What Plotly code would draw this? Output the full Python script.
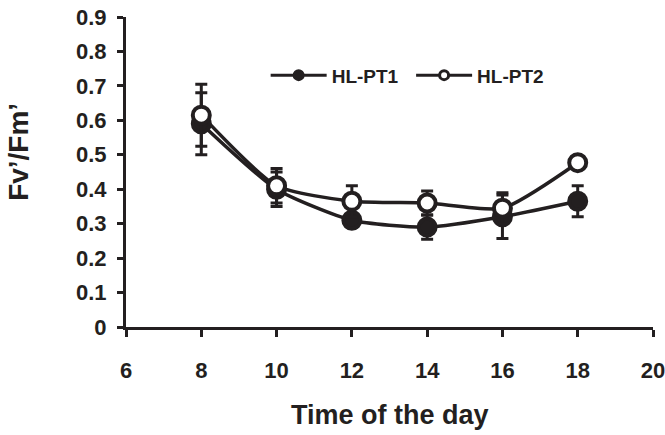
import plotly.graph_objects as go

# Sampling times (hour of the day)
time_of_day = [8, 10, 12, 14, 16, 18]

# Fv'/Fm' means and error for each treatment
hl_pt1 = [0.59, 0.40, 0.31, 0.29, 0.32, 0.365]
hl_pt1_err = [0.09, 0.05, 0.02, 0.035, 0.063, 0.045]
hl_pt2 = [0.615, 0.41, 0.365, 0.36, 0.345, 0.477]
hl_pt2_err = [0.09, 0.05, 0.045, 0.035, 0.045, 0.015]

INK = "#231f20"
FONT = "Liberation Sans, Arial, sans-serif"

fig = go.Figure()

series = [
    ("HL-PT1", hl_pt1, hl_pt1_err, INK, "legend", 0.265),
    ("HL-PT2", hl_pt2, hl_pt2_err, "white", "legend2", 0.541),
]

for name, vals, errs, fill, _, _ in series:
    fig.add_trace(go.Scatter(
        x=time_of_day, y=vals, mode="lines+markers", name=name,
        showlegend=False,
        line=dict(color=INK, width=3.5, shape="spline", smoothing=0.6),
        marker=dict(size=17, color=fill, line=dict(color=INK, width=4)),
        error_y=dict(type="data", array=errs, visible=True,
                     color=INK, thickness=3, width=6),
    ))

# legend entries with smaller symbols, one legend box per series
legend_boxes = {}
for name, _, _, fill, legend_id, lx in series:
    fig.add_trace(go.Scatter(
        x=[None], y=[None], mode="lines+markers", name=name,
        legend=legend_id,
        line=dict(color=INK, width=3),
        marker=dict(size=9, color=fill, line=dict(color=INK, width=3)),
    ))
    legend_boxes[legend_id] = dict(
        orientation="h", x=lx, y=0.812, xanchor="left", yanchor="middle",
        bgcolor="rgba(0,0,0,0)", itemwidth=56,
        font=dict(family=FONT, size=19, color=INK, weight="bold"),
    )

axis_common = dict(
    showline=True, linecolor=INK, linewidth=3,
    ticks="outside", tickcolor=INK, tickwidth=3,
    showgrid=False, zeroline=False, ticklabeloverflow="allow",
    automargin=False,
    tickfont=dict(family=FONT, size=22, color=INK, weight="bold"),
)

fig.update_xaxes(range=[6, 20], tick0=6, dtick=2, ticklen=7,
                 ticklabelstandoff=15, **axis_common)
fig.update_yaxes(range=[0, 0.9], tick0=0, dtick=0.1, ticklen=6,
                 ticklabelstandoff=6, tickformat=".1~f", **axis_common)

fig.add_annotation(
    text="Time of the day", xref="paper", yref="paper",
    x=0.5, y=-0.285, xanchor="center", yanchor="middle", showarrow=False,
    font=dict(family=FONT, size=27, color=INK, weight="bold"),
)
fig.add_annotation(
    text="Fv’/Fm’", xref="paper", yref="paper",
    x=-0.203, y=0.565, xanchor="center", yanchor="middle", textangle=-90,
    showarrow=False,
    font=dict(family=FONT, size=28, color=INK, weight="bold"),
)

fig.update_layout(
    width=665, height=435,
    margin=dict(l=126, r=12, t=17, b=108, autoexpand=False),
    paper_bgcolor="white", plot_bgcolor="white",
    showlegend=True,
    **legend_boxes,
)

fig.write_html("out.html")
